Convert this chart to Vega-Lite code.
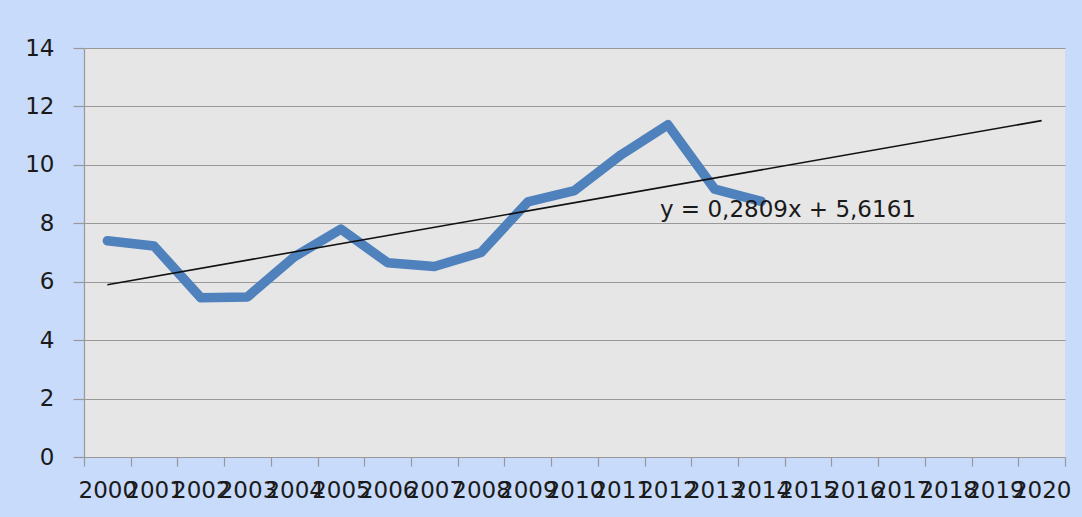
{
  "$schema": "https://vega.github.io/schema/vega-lite/v6.json",
  "width": 981,
  "height": 409,
  "autosize": {"type": "none"},
  "padding": {"left": 84, "top": 48, "right": 17, "bottom": 60},
  "background": "#c8dbfb",
  "config": {
    "view": {"fill": "#e6e6e6", "stroke": null},
    "font": "DejaVu Sans",
    "axis": {"labelFont": "DejaVu Sans", "labelFontSize": 23, "labelColor": "#1a1a1a", "domainColor": "#999999", "tickColor": "#999999", "gridColor": "#999999", "gridWidth": 1.2, "domainWidth": 1.2, "tickWidth": 1.2}
  },
  "datasets": {
    "series": [
      {"year": "2000", "value": 7.4},
      {"year": "2001", "value": 7.22},
      {"year": "2002", "value": 5.45},
      {"year": "2003", "value": 5.48},
      {"year": "2004", "value": 6.85},
      {"year": "2005", "value": 7.8},
      {"year": "2006", "value": 6.65},
      {"year": "2007", "value": 6.52},
      {"year": "2008", "value": 7.0},
      {"year": "2009", "value": 8.73},
      {"year": "2010", "value": 9.12},
      {"year": "2011", "value": 10.35},
      {"year": "2012", "value": 11.37},
      {"year": "2013", "value": 9.17},
      {"year": "2014", "value": 8.75}
    ],
    "trend": [
      {"year": "2000", "value": 5.897},
      {"year": "2020", "value": 11.515}
    ],
    "label": [
      {"year": "2012", "value": 8.45, "text": "y = 0,2809x + 5,6161"}
    ]
  },
  "encoding": {
    "x": {
      "field": "year", "type": "ordinal",
      "scale": {"domain": ["2000","2001","2002","2003","2004","2005","2006","2007","2008","2009","2010","2011","2012","2013","2014","2015","2016","2017","2018","2019","2020"], "paddingInner": 0, "paddingOuter": 0},
      "axis": {"title": null, "labelAngle": 0, "labelOverlap": false, "labelLimit": 0, "tickBand": "extent", "tickSize": 9, "labelPadding": 13, "grid": false}
    },
    "y": {
      "field": "value", "type": "quantitative",
      "scale": {"domain": [0, 14], "nice": false, "zero": true},
      "axis": {"title": null, "values": [0,2,4,6,8,10,12,14], "tickSize": 11, "labelPadding": 19, "grid": true}
    }
  },
  "layer": [
    {
      "data": {"name": "series"},
      "mark": {"type": "line", "color": "#4f81bd", "strokeWidth": 9.5, "strokeCap": "round", "strokeJoin": "round"}
    },
    {
      "data": {"name": "trend"},
      "mark": {"type": "line", "color": "#111111", "strokeWidth": 1.6}
    },
    {
      "data": {"name": "label"},
      "mark": {"type": "text", "align": "left", "baseline": "middle", "dx": -8, "fontSize": 23, "font": "DejaVu Sans", "color": "#1a1a1a"},
      "encoding": {"text": {"field": "text"}}
    }
  ]
}
